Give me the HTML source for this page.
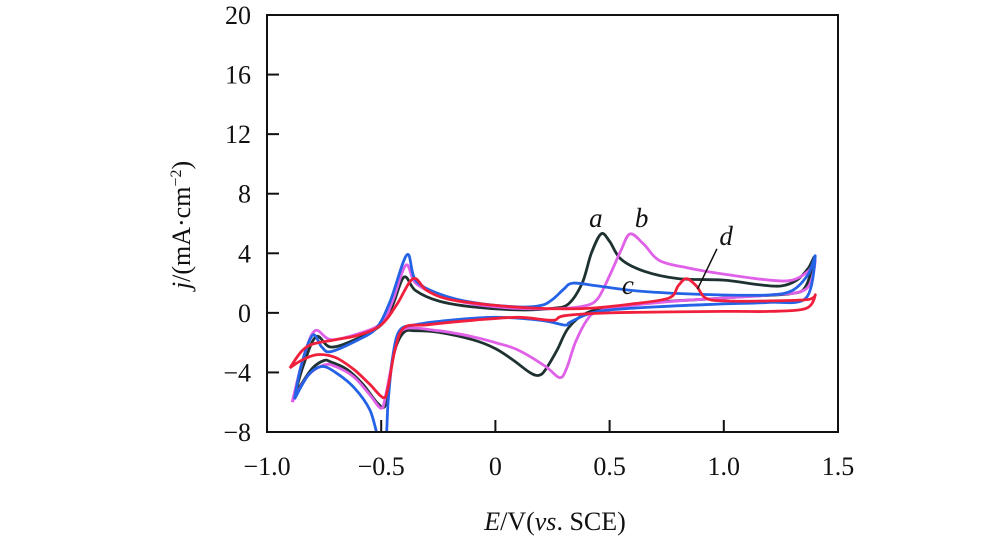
<!DOCTYPE html>
<html><head><meta charset="utf-8"><style>
body{margin:0;background:#fff;}
svg text{font-family:"Liberation Serif",serif;fill:#111;}
</style></head><body>
<svg width="1000" height="553" viewBox="0 0 1000 553">
<g id="plot"></g>
<text x="555" y="530" text-anchor="middle" font-size="26"><tspan font-style="italic">E</tspan>/V(<tspan font-style="italic">vs</tspan>. SCE)</text>
<text transform="translate(190,225) rotate(-90)" text-anchor="middle" font-size="26"><tspan font-style="italic">j</tspan>/(mA·cm<tspan dy="-9" font-size="16">−2</tspan><tspan dy="9">)</tspan></text>
</svg>
<script>
const xTicks=[-1.0,-0.5,0,0.5,1.0,1.5];
const xTickLabels=["\u22121.0","\u22120.5","0","0.5","1.0","1.5"];
const yTicks=[-8,-4,0,4,8,12,16,20];
const yTickLabels=["\u22128","\u22124","0","4","8","12","16","20"];
const curveA=[[-0.88,-5.6],[-0.84,-3.5],[-0.785,-1.6],[-0.72,-2.3],[-0.6,-1.7],[-0.5,-0.8],[-0.45,0.5],[-0.4,2.4],[-0.35,1.5],[-0.25,0.8],[-0.1,0.4],[0.1,0.2],[0.25,0.3],[0.32,0.6],[0.38,2],[0.42,4],[0.463,5.3],[0.5,4.8],[0.55,3.6],[0.65,2.8],[0.8,2.3],[1.0,2.2],[1.15,1.9],[1.25,1.8],[1.32,2.2],[1.37,3.0],[1.395,3.7],[1.36,1.8],[1.3,1.3],[1.1,1.1],[0.9,0.9],[0.7,0.7],[0.5,0.3],[0.4,0],[0.32,-1],[0.27,-2.5],[0.22,-3.8],[0.19,-4.2],[0.15,-4],[0.08,-3.2],[0,-2.4],[-0.1,-1.8],[-0.25,-1.3],[-0.35,-1.2],[-0.4,-1.3],[-0.44,-2.5],[-0.47,-5],[-0.485,-6.3],[-0.52,-6],[-0.58,-4.8],[-0.65,-3.8],[-0.72,-3.3],[-0.75,-3.2],[-0.8,-3.7],[-0.85,-4.8],[-0.88,-5.6]];
const curveB=[[-0.89,-6],[-0.84,-3],[-0.79,-1.2],[-0.72,-1.8],[-0.6,-1.4],[-0.5,-0.7],[-0.45,0.8],[-0.392,3.2],[-0.35,2],[-0.25,1.2],[-0.1,0.6],[0.1,0.3],[0.3,0.3],[0.4,0.5],[0.45,1],[0.5,2.5],[0.55,4.2],[0.59,5.3],[0.65,4.6],[0.72,3.5],[0.85,3],[1.0,2.6],[1.2,2.2],[1.3,2.2],[1.37,2.8],[1.4,3.5],[1.36,1.6],[1.2,1.2],[1.0,1.0],[0.8,0.8],[0.6,0.5],[0.45,0.1],[0.4,-0.5],[0.35,-2],[0.31,-3.8],[0.28,-4.35],[0.22,-3.6],[0.1,-2.5],[0,-2],[-0.1,-1.6],[-0.25,-1.2],[-0.4,-1.1],[-0.44,-2.5],[-0.48,-5.5],[-0.5,-6.4],[-0.55,-5.5],[-0.62,-4.3],[-0.7,-3.6],[-0.75,-3.5],[-0.82,-4.2],[-0.89,-6]];
const curveC=[[-0.88,-5.8],[-0.85,-3.5],[-0.8,-1.5],[-0.76,-2.3],[-0.72,-2.6],[-0.6,-1.8],[-0.52,-1],[-0.46,0.8],[-0.387,3.9],[-0.35,2.2],[-0.25,1.3],[-0.1,0.7],[0.1,0.4],[0.2,0.5],[0.25,0.9],[0.3,1.6],[0.34,2.0],[0.45,1.8],[0.6,1.5],[0.8,1.3],[1.0,1.2],[1.2,1.2],[1.3,1.5],[1.37,2.6],[1.4,3.8],[1.36,1.0],[1.2,0.7],[1.0,0.6],[0.7,0.4],[0.45,0.1],[0.33,-0.6],[0.305,-0.82],[0.2,-0.5],[0,-0.3],[-0.2,-0.5],[-0.35,-0.8],[-0.42,-1.2],[-0.45,-3],[-0.47,-6],[-0.48,-8.5],[-0.51,-8.5],[-0.55,-6.5],[-0.62,-5],[-0.7,-4],[-0.76,-3.6],[-0.82,-4.2],[-0.88,-5.8]];
const curveD=[[-0.9,-3.7],[-0.85,-2.6],[-0.8,-2.1],[-0.7,-1.8],[-0.6,-1.5],[-0.5,-0.8],[-0.43,0.6],[-0.36,2.3],[-0.3,1.5],[-0.2,0.9],[0,0.5],[0.2,0.3],[0.4,0.3],[0.6,0.6],[0.76,1],[0.8,1.8],[0.836,2.3],[0.88,1.8],[0.92,1],[1.0,0.8],[1.2,0.8],[1.37,0.9],[1.4,1.2],[1.36,0.3],[1.2,0.1],[1.0,0.1],[0.5,0],[0.3,-0.2],[0.25,-0.5],[0.1,-0.3],[-0.1,-0.5],[-0.3,-0.8],[-0.4,-1],[-0.44,-2.5],[-0.47,-5],[-0.49,-5.7],[-0.55,-4.8],[-0.62,-3.8],[-0.7,-3],[-0.78,-2.8],[-0.85,-3.2],[-0.9,-3.7]];
const seriesNames=["a","b","c","d"];
const seriesColors=["#1e3232","#e060e8","#2563e6","#f0203c"];

const L=267,R=838,T=15,B=432;
const X=v=>L+(v-(-1))/(2.5)*(R-L);
const Y=v=>B-(v-(-8))/28*(B-T);
const NS="http://www.w3.org/2000/svg";
const g=document.getElementById('plot');
function mk(t,a){const e=document.createElementNS(NS,t);for(const k in a)e.setAttribute(k,a[k]);g.appendChild(e);return e;}
function smooth(pts){
  const p=pts.map(d=>[X(d[0]),Y(d[1])]);
  let s="M"+p[0][0].toFixed(1)+","+p[0][1].toFixed(1);
  for(let i=0;i<p.length-1;i++){
    const p0=p[Math.max(0,i-1)],p1=p[i],p2=p[i+1],p3=p[Math.min(p.length-1,i+2)];
    const c1=[p1[0]+(p2[0]-p0[0])/6,p1[1]+(p2[1]-p0[1])/6];
    const c2=[p2[0]-(p3[0]-p1[0])/6,p2[1]-(p3[1]-p1[1])/6];
    s+="C"+c1.map(v=>v.toFixed(1)).join(",")+" "+c2.map(v=>v.toFixed(1)).join(",")+" "+p2[0].toFixed(1)+","+p2[1].toFixed(1);
  }
  return s;
}
const defs=mk('defs',{});
const cp=document.createElementNS(NS,'clipPath');cp.setAttribute('id','clip');defs.appendChild(cp);
const cr=document.createElementNS(NS,'rect');cr.setAttribute('x',L);cr.setAttribute('y',T);cr.setAttribute('width',R-L);cr.setAttribute('height',B-T);cp.appendChild(cr);

const curves=[curveA,curveB,curveC,curveD];
curves.forEach((c,i)=>{
  const path=mk('path',{d:smooth(c),fill:'none',stroke:seriesColors[i],'stroke-width':2.8,'stroke-linejoin':'round','clip-path':'url(#clip)'});
  
  
});

const frame=mk('rect',{x:L,y:T,width:R-L,height:B-T,fill:'none',stroke:'#111','stroke-width':2});



yTicks.forEach((v,i)=>{
  if(v>-8&&v<20){const t=mk('line',{x1:L,x2:L+12,y1:Y(v),y2:Y(v),stroke:'#111','stroke-width':2});
  }
  const tx=mk('text',{x:251,y:Y(v)+9,'text-anchor':'end','font-size':26});
  tx.textContent=yTickLabels[i];
  
  
});
xTicks.forEach((v,i)=>{
  if(v>-1&&v<1.5){const t=mk('line',{x1:X(v),x2:X(v),y1:B,y2:B-12,stroke:'#111','stroke-width':2});
  }
  const tx=mk('text',{x:X(v),y:475,'text-anchor':'middle','font-size':26});
  tx.textContent=xTickLabels[i];
  
  
});
const labelPos=[[0.44,6.3],[0.64,6.3],[0.58,1.8],[1.01,5.1]];
labelPos.forEach((p,i)=>{
  const tx=mk('text',{x:X(p[0]),y:Y(p[1])+8,'text-anchor':'middle','font-size':27,'font-style':'italic'});
  tx.textContent=seriesNames[i];
  
  
});
const ld=mk('line',{x1:X(0.97),y1:Y(4.3),x2:X(0.885),y2:Y(1.6),stroke:'#111','stroke-width':1.5});


</script>
</body></html>
